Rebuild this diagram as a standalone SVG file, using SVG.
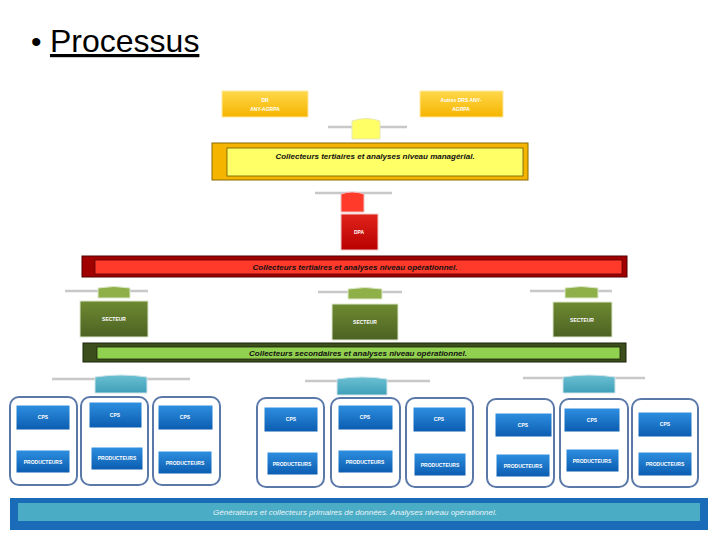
<svg xmlns="http://www.w3.org/2000/svg" width="720" height="540" viewBox="0 0 720 540">
<defs>
<linearGradient id="gy" x1="0" y1="0" x2="0" y2="1"><stop offset="0" stop-color="#ffd84a"/><stop offset="1" stop-color="#f5b400"/></linearGradient>
<linearGradient id="gr" x1="0" y1="0" x2="0" y2="1"><stop offset="0" stop-color="#e0241c"/><stop offset="1" stop-color="#b80000"/></linearGradient>
<linearGradient id="gg" x1="0" y1="0" x2="0" y2="1"><stop offset="0" stop-color="#6e8a32"/><stop offset="1" stop-color="#4c6222"/></linearGradient>
<linearGradient id="gb" x1="0" y1="0" x2="0" y2="1"><stop offset="0" stop-color="#2f8fe0"/><stop offset="1" stop-color="#0a5cb0"/></linearGradient>
<linearGradient id="gt" x1="0" y1="0" x2="0" y2="1"><stop offset="0" stop-color="#6cc0d2"/><stop offset="1" stop-color="#3e9fb8"/></linearGradient>
</defs>
<style>
.t{font-family:"Liberation Sans",Arial,sans-serif}
.lbl{font-family:"Liberation Sans",Arial,sans-serif;font-size:5px;fill:#ffffff;text-anchor:middle;font-weight:bold}
.band{font-family:"Liberation Sans",Arial,sans-serif;font-size:8px;font-style:italic;font-weight:bold;text-anchor:middle;fill:#111}
.line{stroke:#c8c8c8;stroke-width:2.5;fill:none}
.cont{fill:#ffffff;stroke:#5a78a8;stroke-width:2}
.bx{stroke:#ffffff;stroke-width:1}
</style>
<text class="t" x="31" y="52" font-size="30" fill="#000">•</text>
<text class="t" x="50" y="52" font-size="32" fill="#000" text-decoration="underline">Processus</text>

<g id="connectors">
<path class="line" d="M328 127 H407"/>
<path d="M352 139 V121 Q366 116 380 121 V139 Z" fill="#ffff66" stroke="#e8e8b0"/>
<path class="line" d="M315 193 H392"/>
<path d="M341 212 V194 Q352 190 364 194 V212 Z" fill="#ff3a2a" stroke="#f0c0c0"/>
<path class="line" d="M65 291 H148"/>
<path d="M98 298 V288 Q114 285 130 288 V298 Z" fill="#8fb049" stroke="#dde8cc"/>
<path class="line" d="M318 292 H402"/>
<path d="M348 299 V289 Q365 286 382 289 V299 Z" fill="#8fb049" stroke="#dde8cc"/>
<path class="line" d="M530 291 H612"/>
<path d="M565 298 V288 Q581 285 598 288 V298 Z" fill="#8fb049" stroke="#dde8cc"/>
<path class="line" d="M52 379 H190"/>
<path d="M95 393 V377 Q121 373 147 377 V393 Z" fill="url(#gt)" stroke="#d0e4ea"/>
<path class="line" d="M305 381 H430"/>
<path d="M337 395 V379 Q362 375 387 379 V395 Z" fill="url(#gt)" stroke="#d0e4ea"/>
<path class="line" d="M523 378 H645"/>
<path d="M563 393 V377 Q589 373 615 377 V393 Z" fill="url(#gt)" stroke="#d0e4ea"/>
</g>

<g id="dra">
<rect x="222" y="91" width="86" height="26" fill="url(#gy)" stroke="#ffe9a0"/>
<text class="lbl" x="265" y="102">DR</text>
<text class="lbl" x="265" y="111">ANY-AGRPA</text>
</g>
<g id="autres-dra">
<rect x="420" y="91" width="83" height="26" fill="url(#gy)" stroke="#ffe9a0"/>
<text class="lbl" x="461" y="102">Autres DRS ANY-</text>
<text class="lbl" x="461" y="111">AGRPA</text>
</g>
<g id="band-managerial">
<rect x="212" y="143" width="316" height="37" fill="#f5b400" stroke="#8a6a00"/>
<rect x="227" y="148" width="296" height="28" fill="#ffff66" stroke="#6a5a00" stroke-width="0.8"/>
<text class="band" x="375" y="159">Collecteurs tertiaires  et analyses niveau managérial.</text>
</g>
<g id="dpa">
<rect x="341" y="214" width="37" height="36" fill="url(#gr)" stroke="#f2c8c8"/>
<text class="lbl" x="359" y="234">DPA</text>
</g>
<g id="band-tertiaire">
<rect x="82" y="256" width="545" height="21" fill="#a00000" stroke="#500000"/>
<rect x="95" y="260" width="527" height="14" fill="#ff3a2a" stroke="#600000" stroke-width="0.8"/>
<text class="band" x="355" y="270">Collecteurs tertiaires  et analyses niveau opérationnel.</text>
</g>
<g id="secteur-1">
<rect x="80" y="301" width="68" height="36" fill="url(#gg)" stroke="#dde8cc"/>
<text class="lbl" x="114" y="321">SECTEUR</text>
</g>
<g id="secteur-2">
<rect x="332" y="304" width="66" height="36" fill="url(#gg)" stroke="#dde8cc"/>
<text class="lbl" x="365" y="324">SECTEUR</text>
</g>
<g id="secteur-3">
<rect x="553" y="302" width="59" height="35" fill="url(#gg)" stroke="#dde8cc"/>
<text class="lbl" x="582" y="322">SECTEUR</text>
</g>
<g id="band-secondaire">
<rect x="83" y="343" width="543" height="19" fill="#3c4e1c" stroke="#1a2408"/>
<rect x="97" y="347" width="523" height="12" fill="#92d050" stroke="#1a2408" stroke-width="0.8"/>
<text class="band" x="358" y="356">Collecteurs secondaires et analyses niveau opérationnel.</text>
</g>

<g id="g1c1"><rect class="cont" x="10" y="397" width="67" height="88" rx="9"/>
<rect class="bx" x="16" y="405" width="54" height="25" fill="url(#gb)"/><text class="lbl" x="43" y="419">CPS</text>
<rect class="bx" x="16" y="450" width="54" height="23" fill="url(#gb)"/><text class="lbl" x="43" y="464">PRODUCTEURS</text></g>
<g id="g1c2"><rect class="cont" x="81" y="397" width="67" height="88" rx="9"/>
<rect class="bx" x="89" y="402" width="53" height="26" fill="url(#gb)"/><text class="lbl" x="115" y="417">CPS</text>
<rect class="bx" x="91" y="447" width="52" height="23" fill="url(#gb)"/><text class="lbl" x="117" y="460">PRODUCTEURS</text></g>
<g id="g1c3"><rect class="cont" x="153" y="397" width="67" height="88" rx="9"/>
<rect class="bx" x="158" y="405" width="55" height="25" fill="url(#gb)"/><text class="lbl" x="185" y="419">CPS</text>
<rect class="bx" x="158" y="451" width="54" height="23" fill="url(#gb)"/><text class="lbl" x="185" y="465">PRODUCTEURS</text></g>

<g id="g2c1"><rect class="cont" x="257" y="398" width="67" height="89" rx="9"/>
<rect class="bx" x="264" y="407" width="54" height="25" fill="url(#gb)"/><text class="lbl" x="291" y="421">CPS</text>
<rect class="bx" x="267" y="452" width="51" height="23" fill="url(#gb)"/><text class="lbl" x="292" y="466">PRODUCTEURS</text></g>
<g id="g2c2"><rect class="cont" x="331" y="398" width="69" height="89" rx="9"/>
<rect class="bx" x="338" y="405" width="55" height="25" fill="url(#gb)"/><text class="lbl" x="365" y="419">CPS</text>
<rect class="bx" x="338" y="450" width="55" height="23" fill="url(#gb)"/><text class="lbl" x="365" y="464">PRODUCTEURS</text></g>
<g id="g2c3"><rect class="cont" x="406" y="398" width="67" height="89" rx="9"/>
<rect class="bx" x="413" y="407" width="53" height="25" fill="url(#gb)"/><text class="lbl" x="439" y="421">CPS</text>
<rect class="bx" x="414" y="453" width="52" height="23" fill="url(#gb)"/><text class="lbl" x="440" y="467">PRODUCTEURS</text></g>

<g id="g3c1"><rect class="cont" x="487" y="399" width="67" height="88" rx="9"/>
<rect class="bx" x="495" y="413" width="57" height="24" fill="url(#gb)"/><text class="lbl" x="523" y="427">CPS</text>
<rect class="bx" x="496" y="454" width="54" height="23" fill="url(#gb)"/><text class="lbl" x="523" y="468">PRODUCTEURS</text></g>
<g id="g3c2"><rect class="cont" x="560" y="399" width="68" height="88" rx="9"/>
<rect class="bx" x="564" y="408" width="56" height="24" fill="url(#gb)"/><text class="lbl" x="592" y="422">CPS</text>
<rect class="bx" x="566" y="449" width="53" height="23" fill="url(#gb)"/><text class="lbl" x="592" y="463">PRODUCTEURS</text></g>
<g id="g3c3"><rect class="cont" x="632" y="399" width="66" height="88" rx="9"/>
<rect class="bx" x="638" y="412" width="54" height="25" fill="url(#gb)"/><text class="lbl" x="665" y="426">CPS</text>
<rect class="bx" x="638" y="452" width="54" height="24" fill="url(#gb)"/><text class="lbl" x="665" y="466">PRODUCTEURS</text></g>

<g id="band-primaire">
<rect x="10" y="498" width="698" height="32" fill="#1a6bb8"/>
<rect x="18" y="503" width="682" height="18" fill="#4bacc6"/>
<text x="355" y="515" font-family="Liberation Sans, Arial, sans-serif" font-size="8" font-style="italic" text-anchor="middle" fill="#e8f4f8">Générateurs  et collecteurs primaires de données. Analyses niveau opérationnel.</text>
</g>
</svg>
